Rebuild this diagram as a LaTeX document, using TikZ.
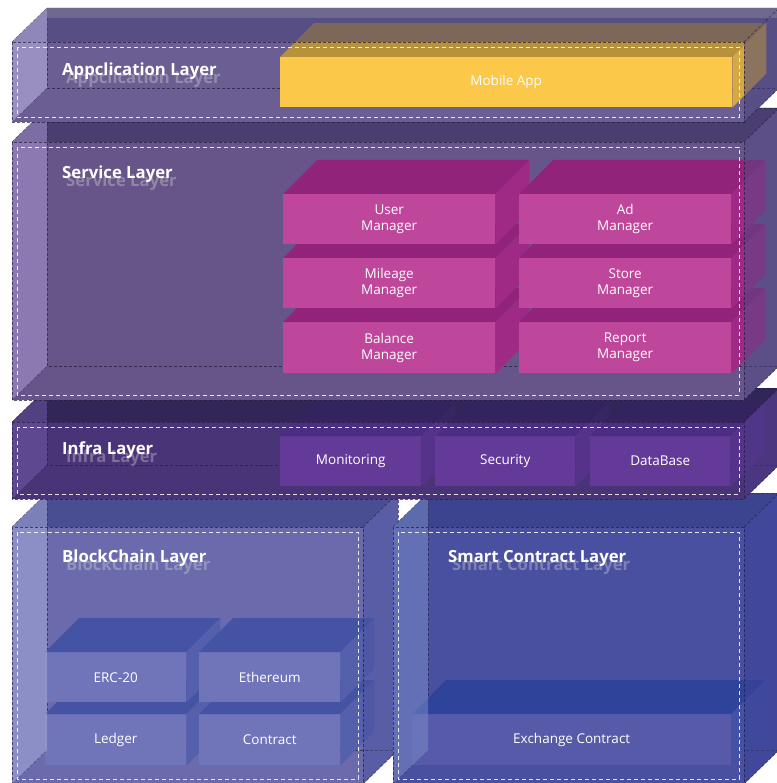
\documentclass[tikz,border=0pt]{standalone}
\usepackage{fontspec}
\setmainfont{Open Sans}

% layer colours
\definecolor{appBase}{HTML}{6B5E93}
\definecolor{appTop}{HTML}{443F78}
\definecolor{appLeft}{HTML}{C8C0EE}
\definecolor{appBand}{HTML}{6E6A8F}
\definecolor{srvBase}{HTML}{675589}
\definecolor{srvTop}{HTML}{2F2757}
\definecolor{srvLeft}{HTML}{AF9DD9}
\definecolor{srvRight}{HTML}{534985}
\definecolor{infBase}{HTML}{4A3478}
\definecolor{infTop}{HTML}{1C1A3C}
\definecolor{infLeft}{HTML}{725CA8}
\definecolor{infRight}{HTML}{4C3A88}
\definecolor{bcBase}{HTML}{6A6AAD}
\definecolor{bcTop}{HTML}{2A3479}
\definecolor{bcLeft}{HTML}{AEB2DF}
\definecolor{bcRight}{HTML}{4A529F}
\definecolor{scBase}{HTML}{4A50A0}
\definecolor{scTop}{HTML}{323A80}
\definecolor{scLeft}{HTML}{7E90CA}
\definecolor{scRight}{HTML}{3A4298}
% block colours
\definecolor{mobFront}{HTML}{FCC84A}
\definecolor{mobTop}{HTML}{B8913B}
\definecolor{mobSide}{HTML}{D4A842}
\definecolor{mgrFront}{HTML}{BE479B}
\definecolor{mgrTop}{HTML}{92237A}
\definecolor{mgrSide}{HTML}{9E2A86}
\definecolor{infFront}{HTML}{633A98}
\definecolor{infBTop}{HTML}{4B2D82}
\definecolor{infSide}{HTML}{55338A}
\definecolor{bcFront}{HTML}{7074B8}
\definecolor{bcBTop}{HTML}{4453A3}
\definecolor{bcSide}{HTML}{5560AD}
\definecolor{exFront}{HTML}{575AA8}
\definecolor{exTop}{HTML}{2E4399}
\definecolor{exSide}{HTML}{4452A6}
\definecolor{edgeCol}{HTML}{221C38}

% opaque outline of a layer box: front x1 y1 x2 y2, fill colour
\newcommand\layershell[5]{%
  \fill[#5] (#1,#4) -- (#1,#2) -- ({#1+35},{#2-34}) -- ({#3+35},{#2-34})
    -- ({#3+35},{#4-34}) -- (#3,#4) -- cycle;
  \draw[edge] ({#1+35},{#2-34}) rectangle ({#3+35},{#4-34});
  \draw[edge] (#1,#2) -- ++(35,-34) (#1,#4) -- ++(35,-34);
}
% translucent top, left and right faces
\newcommand\layerfaces[7]{%
  \fill[#5, opacity=0.5] (#1,#2) -- ++(35,-34) -- ({#3+35},{#2-34}) -- (#3,#2) -- cycle;
  \fill[#6, opacity=0.5] (#1,#2) -- ++(35,-34) -- ({#1+35},{#4-34}) -- (#1,#4) -- cycle;
  \fill[#7, opacity=0.5] (#3,#2) -- ++(35,-34) -- ({#3+35},{#4-34}) -- (#3,#4) -- cycle;
}
% front edges and the inner dashed frame
\newcommand\layerfront[4]{%
  \draw[edge] (#1,#2) rectangle (#3,#4);
  \draw[edge] (#3,#2) -- ++(35,-34) (#3,#4) -- ++(35,-34);
  \draw[inset] ({#1+5},{#2+5}) rectangle ({#3-5},{#4-5});
}
% layer title with its soft shadow
\newcommand\layertitle[4]{%
  \node[lblshadow] at ({#2+4},{#3+8}) {#4};
  \node[lbl] (#1) at (#2,#3) {#4};
}
% a solid block: name, x1 y1 x2 y2, front, top, side, text
\newcommand\block[9]{%
  \node[cmp, fill=#6, minimum width={#4-#2}, minimum height={#5-#3}, anchor=north west] (#1) at (#2,#3) {#9};
  \fill[#7] (#1.north west) -- ++(34,-34) -- ([shift={(34,-34)}]#1.north east) -- (#1.north east) -- cycle;
  \fill[#8] (#1.north east) -- ++(34,-34) -- ([shift={(34,-34)}]#1.south east) -- (#1.south east) -- cycle;
}

\begin{document}
\begin{tikzpicture}[x=1pt, y=-1pt,
  edge/.style={draw=edgeCol, draw opacity=0.7, line width=0.6pt, dash pattern=on 3pt off 2pt},
  inset/.style={draw=white, draw opacity=0.85, line width=0.8pt, dash pattern=on 4pt off 3pt},
  lbl/.style={font=\fontsize{16.7}{19}\selectfont\bfseries, text=white, anchor=west, inner sep=0pt},
  lblshadow/.style={font=\fontsize{16.7}{19}\selectfont\bfseries, text=white!75!gray, opacity=0.35, anchor=west, inner sep=0pt},
  cmp/.style={font=\fontsize{13.5}{16}\selectfont, text=white, align=center, inner sep=0pt, draw=none},
]
\useasboundingbox (0,0) rectangle (776,783);

% ---------- BlockChain layer ----------
\layershell{12}{527}{363}{784}{bcBase}
\block{ledger}{45}{714}{186}{765}{bcFront}{bcBTop}{bcSide}{Ledger}
\block{erc}{45}{652}{186}{702}{bcFront}{bcBTop}{bcSide}{ERC-20}
\block{contract}{199}{714}{340}{765}{bcFront}{bcBTop}{bcSide}{Contract}
\block{ethereum}{199}{652}{340}{702}{bcFront}{bcBTop}{bcSide}{Ethereum}
\layerfaces{12}{527}{363}{784}{bcTop}{bcLeft}{bcRight}
\layerfront{12}{527}{363}{784}
\layertitle{bctitle}{62}{558}{BlockChain Layer}

% ---------- Smart Contract layer ----------
\layershell{393}{527}{744}{784}{scBase}
\block{exchange}{412}{714}{731}{765}{exFront}{exTop}{exSide}{Exchange Contract}
\layerfaces{393}{527}{744}{784}{scTop}{scLeft}{scRight}
\layerfront{393}{527}{744}{784}
\layertitle{sctitle}{448}{558}{Smart Contract Layer}

% ---------- Infra layer ----------
\layershell{12}{422}{744}{499}{infBase}
\block{monitoring}{280}{436}{421}{486}{infFront}{infBTop}{infSide}{Monitoring}
\block{security}{435}{436}{575}{486}{infFront}{infBTop}{infSide}{Security}
\block{database}{590}{436}{730}{486}{infFront}{infBTop}{infSide}{DataBase}
\layerfaces{12}{422}{744}{499}{infTop}{infLeft}{infRight}
\layerfront{12}{422}{744}{499}
\layertitle{inftitle}{62}{450}{Infra Layer}

% ---------- Service layer ----------
\layershell{12}{142}{744}{400}{srvBase}
\block{balance}{283}{322}{495}{373}{mgrFront}{mgrTop}{mgrSide}{Balance\\Manager}
\block{mileage}{283}{258}{495}{308}{mgrFront}{mgrTop}{mgrSide}{Mileage\\Manager}
\block{user}{283}{194}{495}{244}{mgrFront}{mgrTop}{mgrSide}{User\\Manager}
\block{report}{519}{322}{731}{373}{mgrFront}{mgrTop}{mgrSide}{Report\\Manager}
\block{store}{519}{258}{731}{308}{mgrFront}{mgrTop}{mgrSide}{Store\\Manager}
\block{ad}{519}{194}{731}{244}{mgrFront}{mgrTop}{mgrSide}{Ad\\Manager}
\layerfaces{12}{142}{744}{400}{srvTop}{srvLeft}{srvRight}
\layerfront{12}{142}{744}{400}
\layertitle{srvtitle}{62}{174}{Service Layer}

% ---------- Application layer ----------
\layershell{12}{42}{744}{122}{appBase}
\block{mobile}{280}{57}{732}{107}{mobFront}{mobTop}{mobSide}{Mobile App}
\layerfaces{12}{42}{744}{122}{appTop}{appLeft}{appTop}
\fill[appBand] (47,8) rectangle (779,18);
\layerfront{12}{42}{744}{122}
\layertitle{apptitle}{62}{71}{Appclication Layer}
\end{tikzpicture}
\end{document}
